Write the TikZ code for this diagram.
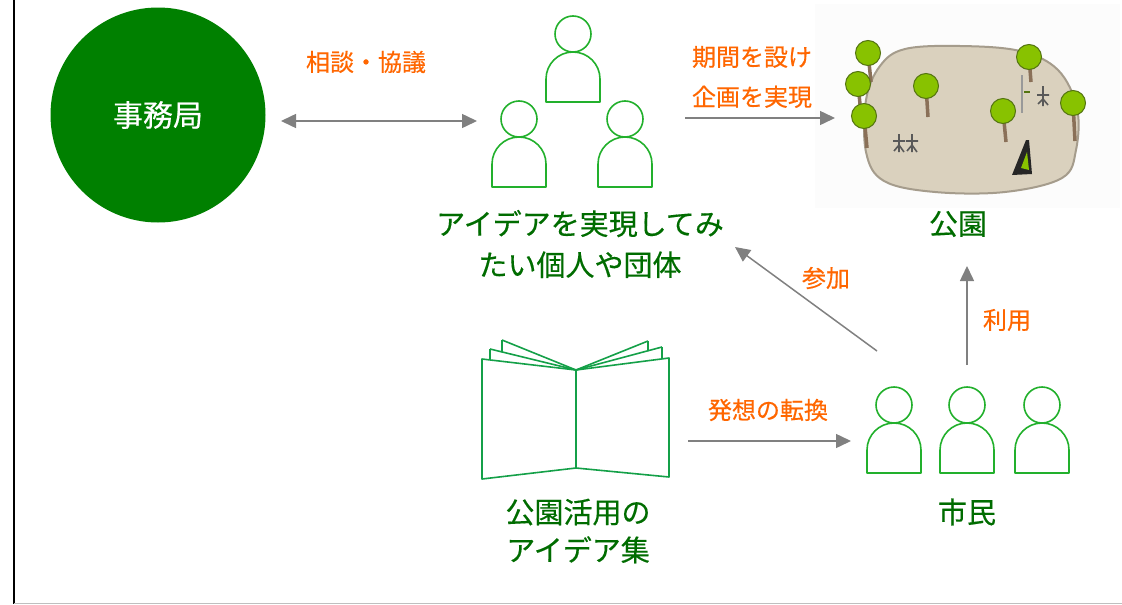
\documentclass[tikz,border=0pt]{standalone}
\usepackage{fontspec}
\newfontfamily\jp{Noto Sans CJK JP}[UprightFeatures={FakeBold=0.4}]
\usetikzlibrary{arrows.meta}
\definecolor{officegreen}{RGB}{0,128,0}
\definecolor{textgreen}{RGB}{0,108,0}
\definecolor{iconline}{RGB}{34,176,44}
\definecolor{bookline}{RGB}{20,160,72}
\definecolor{labelorange}{RGB}{255,102,0}
\definecolor{arrowgray}{RGB}{128,128,128}
\definecolor{parkfill}{RGB}{218,209,190}
\definecolor{parkedge}{RGB}{165,156,140}
\definecolor{leaf}{RGB}{136,194,0}
\definecolor{leafedge}{RGB}{84,116,16}
\definecolor{trunk}{RGB}{138,112,88}
\definecolor{haze}{RGB}{252,252,252}

\begin{document}
\begin{tikzpicture}[x=1pt,y=-1pt,
  flow/.style={draw=arrowgray, line width=1.5pt, -{Triangle[length=15pt,width=14pt]}},
  biflow/.style={draw=arrowgray, line width=1.5pt, {Triangle[length=15pt,width=14pt]}-{Triangle[length=15pt,width=14pt]}},
  lbl/.style={text=labelorange, font=\jp\fontsize{24}{40}\selectfont, inner sep=0pt, align=center},
  caption/.style={text=textgreen, font=\jp\fontsize{29}{41}\selectfont, inner sep=0pt, align=center},
  person/.pic={
    \coordinate (-c) at (0,0);
    \draw[iconline, line width=1.6pt] (0,0) circle[radius=18];
    \draw[iconline, line width=1.6pt, line join=round]
      (-27,68) -- (-27,45) arc[start angle=180, end angle=360, radius=27] -- (27,68) -- cycle;
  },
  % a tree: canopy at the origin, trunk running to the given offset
  tree/.pic={
    \coordinate (-c) at (0,0);
    \draw[trunk, line width=3.5pt] (0,0) -- (#1);
    \fill[leaf, draw=leafedge, line width=1pt] (0,0) circle[radius=12.5];
  }
]
\path[use as bounding box] (0,0) rectangle (1122,605);

% frame lines
\draw[black, line width=1.5pt] (14,0) -- (14,604);
\draw[black!25, line width=1.5pt] (14,603.5) -- (1122,603.5);

% office
\node[circle, fill=officegreen, minimum size=215pt, inner sep=0pt,
      text=white, font=\jp\fontsize{30}{34}\selectfont] (office) at (158,115) {事務局};

% group of people
\pic (pa) at (573,34) {person};
\pic (pb) at (519,119) {person};
\pic (pc) at (625,119) {person};
\node[caption] (groupcap) at (580,244) {アイデアを実現してみ\\たい個人や団体};

% park
\fill[haze] (815,4) rectangle (1120,208);
\draw[parkedge, fill=parkfill, line width=2pt]
  plot[smooth cycle, tension=0.6] coordinates {
    (905,49) (960,46) (1020,51) (1058,70) (1077,108) (1076,150) (1062,178)
    (1005,192) (935,192) (884,181) (866,152) (866,100) (880,66)};
\pic (t1) at (868,53) {tree={3,29}};
\pic (t2) at (858,84) {tree={2,20}};
\pic (t3) at (864,116) {tree={3,32}};
\pic (t4) at (926,86) {tree={2,31}};
\pic (t5) at (1003,111) {tree={3,31}};
\pic (t6) at (1029,57) {tree={2,25}};
\pic (t7) at (1073,103) {tree={2,38}};
% visitors and play equipment in the park
\begin{scope}[line width=1.6pt, draw=black!65]
  \draw (899,134) -- (899,152) (893,141) -- (905,141) (894,151) -- (899,145) -- (904,152);
  \draw (912,134) -- (912,152) (906,141) -- (918,141) (907,151) -- (912,145) -- (917,152);
  \draw[black!40, line width=2pt] (1022,75) -- (1022,113);
  \draw[leafedge, line width=2pt] (1024,92) -- (1030,92);
  \draw (1043,86) -- (1043,106) (1037,95) -- (1049,95) (1038,104) -- (1043,99) -- (1048,105);
\end{scope}
\fill[black!85] (1012,175) -- (1026,140) -- (1029,140) -- (1032,174) -- cycle;
\fill[leaf] (1021,168) -- (1027,152) -- (1029,170) -- cycle;
\node[caption] (parkcap) at (958,224) {公園};

% idea book
\begin{scope}[bookline, line width=1.6pt, line join=round]
  \draw (502,340) -- (576,370) (502,340) -- (502,352);
  \draw (490,349) -- (576,370) (490,349) -- (490,359);
  \draw (648,341) -- (576,370) (648,341) -- (648,351);
  \draw (662,347) -- (576,370) (662,347) -- (662,359);
  \draw (482,359) -- (576,370) -- (576,468) -- (482,479) -- cycle;
  \draw (576,370) -- (669,358) -- (669,477) -- (576,468);
\end{scope}
\coordinate (book) at (576,420);
\node[caption, font=\jp\fontsize{29}{38}\selectfont] (bookcap) at (578,531) {公園活用の\\アイデア集};

% citizens
\pic (ca) at (894,405) {person};
\pic (cb) at (967,405) {person};
\pic (cc) at (1042,405) {person};
\node[caption] (citcap) at (967,512) {市民};

% connector end points
\coordinate (officeR) at (281,121);
\coordinate (groupL) at (477,121);
\coordinate (groupR) at (685,118);
\coordinate (parkL) at (835,118);
\coordinate (citUL) at (877,351);
\coordinate (groupLow) at (735,247);
\coordinate (citTop) at (967,365);
\coordinate (parkLow) at (967,266);
\coordinate (bookR) at (688,441);
\coordinate (citL) at (851,441);

% connectors
\draw[biflow] (officeR) -- (groupL);
\draw[flow] (groupR) -- (parkL);
\draw[flow] (citUL) -- (groupLow);
\draw[flow] (citTop) -- (parkLow);
\draw[flow] (bookR) -- (citL);

% connector labels
\node[lbl] (consult) at (366,62) {相談・協議};
\node[lbl] (realize) at (752,77) {期間を設け\\企画を実現};
\node[lbl] (join) at (826,278) {参加};
\node[lbl] (use) at (1007,320) {利用};
\node[lbl] (shift) at (768,410) {発想の転換};
\end{tikzpicture}
\end{document}
